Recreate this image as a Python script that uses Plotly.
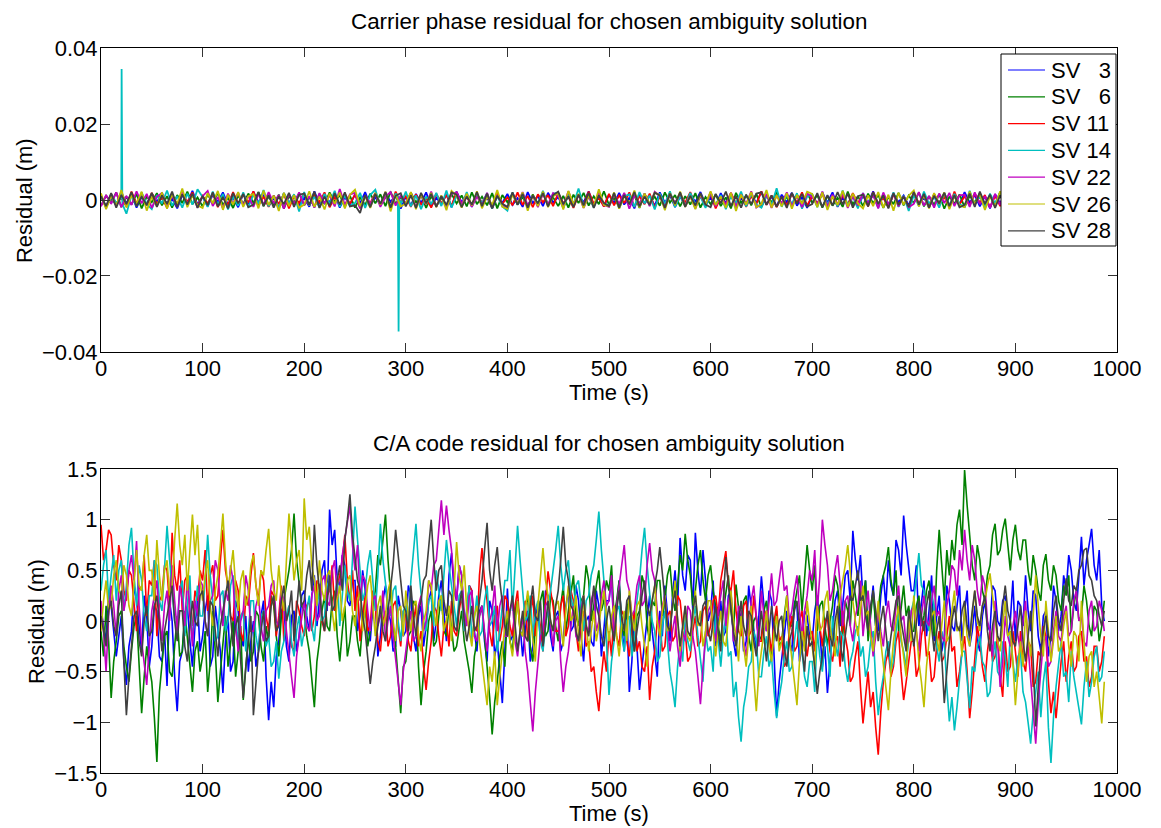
import plotly.graph_objects as go

# Epoch times (s): carrier phase every 5 s, C/A code every 2.5 s
t_phase = [5 * i for i in range(198)]
t_code = [2.5 * i for i in range(396)]

sv_names = ["SV \u20073", "SV \u20076", "SV 11", "SV 14", "SV 22", "SV 26", "SV 28"]
sv_colors = ["#0000ff", "#008000", "#ff0000", "#00bfbf", "#bf00bf", "#bfbf00", "#404040"]

# Carrier phase residuals (mm)
phase_sv3 = [
    1.2, -1.8, 0.6, -1.4, 2.1, -0.9, 1.5, -2.0, 0.8, -1.1,
    1.7, -0.6, 1.9, -1.5, 0.4, -2.2, 1.3, -0.8, 2.4, -1.2,
    0.9, -1.7, 1.4, -0.5, 2.0, -1.3, 0.7, -1.9, 1.6, -1.0,
    2.2, -0.7, 1.1, -1.6, 0.5, -2.1, 1.8, -0.9, 1.3, -1.4,
    0.6, -1.8, 2.3, -1.1, 1.0, -0.6, 1.7, -2.0, 0.8, -1.3,
    1.5, -0.9, 2.1, -1.5, 0.7, -1.2, 1.9, -0.5, 1.2, -2.3,
    0.9, -1.4, 1.6, -0.8, 2.0, -1.7, 0.6, -1.1, 1.4, -1.9,
    2.2, -0.6, 1.0, -1.5, 1.8, -1.0, 0.7, -2.1, 1.3, -0.8,
    1.6, -1.3, 0.5, -1.8, 2.1, -0.9, 1.1, -1.6, 1.9, -0.7,
    0.8, -2.0, 1.5, -1.1, 1.2, -0.6, 2.3, -1.4, 0.9, -1.7,
    1.4, -0.8, 1.9, -1.2, 0.6, -2.2, 1.7, -1.0, 1.1, -1.5,
    2.0, -0.7, 1.3, -1.9, 0.9, -1.3, 1.6, -0.5, 2.1, -1.1,
    0.7, -1.6, 1.8, -0.9, 1.2, -2.0, 0.5, -1.4, 1.5, -0.8,
    2.2, -1.2, 0.9, -1.7, 1.4, -0.6, 1.9, -1.5, 0.8, -2.1,
    1.3, -1.0, 1.7, -0.7, 2.0, -1.8, 0.6, -1.2, 1.5, -1.6,
    1.1, -0.9, 2.3, -1.3, 0.8, -1.9, 1.6, -0.6, 1.2, -1.4,
    1.9, -1.1, 0.7, -2.0, 1.4, -0.8, 1.8, -1.5, 0.9, -1.2,
    2.1, -0.7, 1.3, -1.7, 1.0, -2.2, 1.5, -0.9, 1.7, -1.3,
    0.6, -1.6, 2.0, -1.0, 1.2, -1.8, 0.8, -1.4, 1.9, -0.7,
    1.4, -2.1, 1.1, -1.2, 1.7, -0.8, 1.3, -1.6,
]
phase_sv6 = [
    -1.5, 1.1, -0.7, 2.0, -1.9, 0.8, -1.2, 1.6, -2.2, 0.9,
    -0.6, 1.8, -1.4, 1.0, -2.0, 1.3, -0.8, 2.2, -1.1, 0.7,
    -1.7, 1.5, -0.9, 1.9, -1.3, 0.6, -2.1, 1.2, -1.0, 1.7,
    -0.8, 2.1, -1.6, 0.9, -1.2, 1.4, -2.3, 1.0, -0.7, 1.8,
    -1.4, 0.8, -1.9, 1.6, -1.1, 2.0, -0.6, 1.3, -1.8, 1.1,
    -2.0, 0.7, -1.3, 1.7, -0.9, 1.5, -1.6, 2.2, -1.0, 0.8,
    -1.2, 1.9, -0.7, 1.4, -2.1, 1.0, -1.5, 0.6, -1.8, 1.6,
    -0.9, 1.2, -1.7, 2.0, -1.1, 0.9, -1.4, 1.8, -2.2, 1.3,
    -0.6, 1.7, -1.2, 0.8, -1.9, 1.5, -1.0, 2.1, -1.3, 0.7,
    -1.6, 1.1, -2.0, 1.4, -0.8, 1.9, -1.5, 1.0, -1.1, 2.3,
    -1.3, 0.6, -1.8, 1.6, -0.9, 1.2, -2.1, 1.7, -1.0, 0.9,
    -1.5, 2.0, -0.7, 1.3, -1.7, 1.0, -1.2, 1.8, -2.0, 0.8,
    -1.1, 1.5, -1.6, 0.7, -2.2, 1.9, -0.8, 1.2, -1.4, 1.6,
    -1.9, 1.0, -0.6, 2.1, -1.3, 0.9, -1.7, 1.4, -1.0, 1.8,
    -0.7, 1.3, -2.0, 1.1, -1.5, 0.6, -1.8, 2.2, -1.2, 1.0,
    -1.6, 1.7, -0.9, 1.4, -2.1, 0.8, -1.1, 1.9, -1.4, 1.2,
    -0.8, 2.0, -1.7, 1.0, -1.3, 1.6, -2.3, 0.9, -1.0, 1.5,
    -1.9, 1.1, -0.7, 1.8, -1.5, 1.3, -1.2, 2.1, -0.9, 0.7,
    -1.6, 1.4, -2.0, 1.0, -1.1, 1.7, -1.4, 0.8, -1.8, 1.9,
    -1.0, 1.2, -1.5, 2.0, -0.8, 1.3, -1.7, 1.1,
]
phase_sv11 = [
    0.9, -2.0, 1.6, -1.1, 0.6, -1.7, 2.2, -0.8, 1.3, -1.5,
    1.9, -1.0, 0.7, -2.1, 1.4, -1.2, 1.8, -0.6, 2.0, -1.6,
    1.1, -0.9, 1.7, -1.9, 0.8, -1.3, 2.1, -1.0, 1.5, -0.7,
    2.3, -1.4, 0.9, -1.8, 1.2, -1.1, 1.6, -2.2, 1.0, -0.8,
    1.8, -1.5, 1.3, -0.6, 2.0, -1.9, 0.7, -1.2, 1.7, -1.0,
    1.4, -2.1, 1.1, -0.9, 1.9, -1.3, 0.8, -1.6, 2.2, -0.7,
    1.0, -1.8, 1.5, -1.2, 0.6, -2.0, 1.7, -0.9, 1.3, -1.5,
    2.1, -1.1, 0.9, -1.7, 1.6, -0.8, 1.2, -2.2, 1.8, -1.0,
    0.7, -1.4, 2.0, -1.3, 1.1, -1.9, 1.5, -0.6, 1.3, -1.6,
    1.9, -0.9, 0.8, -2.1, 1.4, -1.2, 2.2, -1.0, 0.6, -1.7,
    1.6, -1.4, 1.2, -0.8, 2.0, -1.8, 1.0, -1.1, 1.7, -2.0,
    0.9, -1.5, 1.8, -1.0, 1.3, -0.7, 2.1, -1.6, 1.1, -1.3,
    1.5, -2.2, 0.7, -1.2, 1.9, -0.9, 1.4, -1.8, 1.0, -1.1,
    2.3, -1.3, 1.2, -1.9, 0.8, -1.4, 1.6, -0.7, 2.0, -1.5,
    1.1, -1.0, 1.7, -2.1, 0.9, -1.6, 1.3, -1.2, 1.8, -0.8,
    1.4, -1.7, 2.1, -1.0, 0.6, -1.9, 1.5, -1.3, 1.0, -2.0,
    1.9, -0.9, 1.2, -1.5, 1.6, -1.1, 0.8, -1.8, 2.2, -1.2,
    1.0, -1.4, 1.7, -0.7, 1.3, -2.0, 1.1, -1.6, 1.5, -0.9,
    2.0, -1.2, 0.9, -1.7, 1.8, -1.0, 1.4, -2.1, 0.7, -1.3,
    1.6, -1.5, 1.2, -0.8, 1.9, -1.4, 1.0, -1.1,
]
phase_sv14 = [
    1.0, -1.9, 1.5, -0.8, 2.3, -3.6, 1.2, -1.6, 2.0, -1.1,
    -2.4, 1.3, -0.9, 2.5, -1.5, 1.0, -2.0, 1.7, -1.2, 2.8,
    0.8, -1.8, 2.2, -1.3, 1.6, -2.5, 0.9, -1.5, 2.0, -1.9,
    1.4, -1.0, 2.6, -1.7, 1.1, -2.2, 1.8, -0.9, 1.5, -3.0,
    2.1, -1.4, 0.9, -2.0, 1.6, -1.1, 2.4, -1.8, 1.2, -1.6,
    -0.8, 1.9, -2.1, 1.3, 2.7, -1.5, 1.0, -1.9, 1.7, -1.2,
    2.2, -1.7, 1.2, -2.4, 0.9, -1.1, 1.9, -1.6, 2.5, -2.0,
    1.1, -1.3, 2.1, -1.8, 1.6, -0.9, 1.8, -2.3, 1.0, -1.7,
    -2.8, 2.0, -1.2, 1.5, -1.9, 1.2, -1.0, 2.4, -1.5, 1.7,
    1.9, -2.1, 1.3, -1.2, 3.0, -1.6, 0.9, -2.0, 1.6, -1.1,
    -1.4, 1.8, -2.2, 1.0, 1.5, -1.8, 2.1, -0.9, 1.2, -2.5,
    1.7, -1.1, 2.3, -1.9, 1.1, -1.6, 1.9, -1.2, 0.9, -2.1,
    2.0, -1.5, 1.3, -2.4, 1.0, -0.8, 2.2, -1.7, 1.6, -1.2,
    -2.0, 1.2, -1.3, 3.1, -1.8, 1.5, -1.0, 1.8, -2.3, 0.9,
    1.6, -1.9, 2.1, -1.1, 1.2, -1.7, 2.5, -1.3, 0.8, -2.2,
    1.8, -0.9, 1.5, -2.1, 1.7, -1.2, 2.0, -1.8, 1.1, -2.9,
    1.3, -1.6, 2.2, -1.0, 0.9, -2.0, 1.9, -1.5, 1.6, -1.1,
    -1.8, 2.4, -1.2, 1.0, -2.1, 1.7, -0.9, 2.0, -1.6, 1.3,
    2.8, -1.7, 1.1, -2.2, 1.5, -0.8, 1.8, -1.9, 1.2, -1.3,
    2.1, -1.1, 1.6, -2.0, 0.9, -1.5, 1.9, -1.2,
]
# SV 14 cycle-slip epochs (s) and their residuals (mm)
sv14_slip_t = [19.6, 20.3, 21.0, 292.2, 292.9, 293.6]
sv14_slip_mm = [0.5, 34.5, -1.0, 0.8, -34.6, 0.4]
phase_sv22 = [
    -1.7, 1.3, -1.0, 2.0, -1.9, 1.1, -1.3, 2.3, -0.9, 1.6,
    -2.1, 0.9, 1.8, -1.4, 1.2, -1.8, 2.1, -1.1, 1.5, -2.0,
    1.0, 2.4, -1.6, 0.8, -2.2, 1.7, -1.0, 1.9, -1.3, 1.1,
    -1.8, 1.6, -1.2, 2.1, -0.9, 1.3, -2.3, 1.7, -1.1, 2.0,
    -1.4, 1.0, -2.0, 1.8, -0.8, 1.2, -1.7, 2.9, -1.3, 1.5,
    1.9, -2.2, 1.1, -1.0, 1.6, -1.8, 0.9, 2.1, -1.5, 1.2,
    -0.9, 1.8, -1.9, 1.3, -1.2, 2.2, -1.7, 1.0, -2.1, 1.6,
    2.0, -1.1, 1.5, -1.8, 0.9, -1.3, 1.9, -2.0, 1.2, -1.0,
    -2.2, 1.7, -0.8, 2.1, -1.4, 1.1, -1.9, 1.6, -1.2, 1.8,
    1.0, -1.6, 2.3, -1.1, 1.3, -2.1, 0.9, -1.7, 2.0, -1.3,
    -1.8, 1.4, -1.0, 1.9, -2.3, 1.2, -0.9, 1.7, -1.6, 2.2,
    1.1, -2.0, 1.6, -0.8, 1.8, -1.4, 1.0, -2.2, 1.3, -1.2,
    2.1, -1.7, 0.9, -1.3, 1.9, -1.8, 1.4, -1.0, 2.3, -2.0,
    -1.1, 1.6, -2.1, 1.2, -0.9, 2.0, -1.6, 1.1, -1.9, 1.7,
    0.8, -1.3, 2.2, -1.8, 1.4, -1.1, 1.7, -2.1, 1.0, -1.4,
    1.8, -0.9, 1.3, -2.2, 2.0, -1.2, 1.6, -1.7, 0.9, -1.9,
    -1.0, 2.1, -1.5, 1.1, -2.0, 1.7, -0.8, 1.9, -1.6, 1.2,
    1.4, -1.8, 2.0, -1.1, 1.0, -2.1, 1.6, -1.3, 2.2, -0.9,
    -1.7, 1.2, -1.9, 1.8, -1.0, 1.3, -2.2, 0.9, 1.7, -1.4,
    1.9, -1.2, 1.0, -2.0, 1.6, -0.9, 1.8, -1.7,
]
phase_sv26 = [
    1.8, -2.4, 1.1, -1.5, 2.6, -2.0, 1.3, -1.0, 2.2, -2.8,
    0.9, -1.7, 2.0, -2.3, 1.5, -1.1, 3.0, -1.9, 1.2, -1.4,
    -2.1, 1.8, -0.9, 2.4, -2.6, 1.4, -1.2, 2.1, -1.8, 1.0,
    1.6, -2.2, 2.5, -1.3, 1.1, -2.9, 1.9, -1.6, 1.3, -2.0,
    -1.2, 2.3, -1.8, 0.9, -2.5, 1.7, -1.0, 2.0, -2.2, 1.4,
    2.7, -1.6, 1.0, -2.1, 1.8, -1.2, 2.2, -3.0, 1.3, -1.7,
    -0.9, 2.1, -2.4, 1.5, -1.1, 1.9, -1.9, 1.2, -2.7, 2.4,
    1.1, -2.0, 1.7, -1.4, 2.3, -2.2, 0.9, -1.3, 2.6, -1.8,
    -2.3, 1.4, -1.0, 2.0, -2.8, 1.3, -1.6, 2.2, -1.9, 1.0,
    1.8, -2.5, 2.4, -1.1, 1.6, -2.1, 1.2, -1.7, 2.8, -1.3,
    -1.6, 2.0, -2.3, 1.1, -0.9, 2.5, -2.0, 1.7, -1.2, 1.9,
    1.3, -2.7, 1.8, -1.4, 2.2, -1.8, 1.0, -2.4, 1.6, -1.1,
    2.3, -1.3, 0.9, -2.1, 1.9, -2.9, 1.4, -1.2, 2.1, -1.9,
    -1.1, 2.6, -2.0, 1.2, -1.7, 1.8, -2.3, 1.3, -1.0, 2.2,
    1.6, -1.9, 2.0, -2.6, 1.0, -1.3, 2.4, -1.8, 1.7, -0.9,
    -2.2, 1.2, -1.6, 2.1, -2.0, 1.4, -2.8, 1.9, -1.2, 1.1,
    2.5, -1.7, 1.3, -2.2, 1.8, -1.0, 2.0, -2.4, 1.1, -1.5,
    -1.9, 2.2, -1.2, 1.6, -2.6, 1.0, -1.7, 2.3, -2.0, 1.3,
    1.7, -2.3, 1.9, -1.1, 2.4, -1.8, 0.9, -2.5, 1.5, -1.6,
    2.0, -1.3, 2.3, -2.1, 1.2, -1.8, 1.6, -2.2,
]
phase_sv28 = [
    1.0, -1.6, 1.8, -2.0, 1.3, -1.1, 2.1, -1.7, 0.9, -1.3,
    1.9, -1.8, 1.2, -1.0, 2.2, -1.9, 1.5, -1.2, 1.7, -2.1,
    1.1, -1.4, 2.0, -1.7, 0.8, -2.2, 1.8, -0.9, 1.6, -1.9,
    -1.2, 2.1, -1.6, 1.3, -2.0, 1.0, -1.1, 1.9, -1.8, 1.4,
    1.7, -1.3, 2.2, -2.1, 0.9, -1.6, 1.8, -1.2, 2.0, -1.7,
    -1.4, -3.4, 1.3, -1.9, 1.6, -1.0, 2.1, -2.0, 1.1, 1.8,
    -1.7, 1.2, -2.1, 1.9, -0.9, 1.6, -1.8, 1.0, -1.3, 2.0,
    1.4, -1.9, 0.9, -1.2, 2.1, -1.6, 1.7, -2.2, 1.1, -1.0,
    -1.8, 2.0, -1.3, 1.6, -2.0, 1.2, -0.9, 1.8, -1.7, 1.3,
    2.2, -1.1, 1.0, -1.9, 1.4, -1.4, 1.9, -2.1, 1.2, -0.8,
    -1.6, 1.8, -2.0, 1.3, -1.1, 2.1, -1.7, 0.9, -1.3, 1.9,
    1.2, -2.1, 1.7, -1.0, 2.0, -1.8, 1.1, -1.4, 1.8, -1.2,
    -1.9, 1.6, -0.9, 2.2, -1.6, 1.0, -2.0, 1.4, -1.1, 1.7,
    2.0, -1.3, 1.2, -1.8, 0.9, -2.1, 1.9, -1.0, 1.6, -1.7,
    -1.1, 1.8, -1.9, 1.3, -1.4, 2.1, -1.2, 1.7, -2.0, 1.0,
    1.4, -1.7, 2.0, -1.0, 1.2, -2.2, 1.8, -1.3, 0.9, -1.8,
    2.1, -1.2, 1.6, -2.0, 1.1, -0.9, 1.9, -1.6, 1.3, -1.9,
    -1.3, 1.7, -1.8, 2.2, -1.0, 1.4, -2.1, 1.2, -1.6, 1.8,
    0.9, -2.0, 1.6, -1.2, 1.9, -1.7, 1.1, -0.9, 2.1, -1.8,
    1.3, -1.4, 1.8, -2.1, 1.0, -1.1, 1.7, -1.6,
]

# C/A code residuals (cm)
code_sv3 = [
    10, -5, -20, 30, 15, -10, -35, -15, 5, -40, -63, -25, -10, 35, 20, -5, -30, 25, 5, -45,
    -25, 15, 10, -35, -40, -10, -64, 20, 0, -55, -89, -40, -30, 5, 15, -20, -45, -5, 20, -30,
    -15, 10, 25, -45, -35, 15, -10, -30, -71, -20, 5, -50, -40, 20, 10, -15, -25, 5, -50, -20,
    0, -45, -30, 5, 20, -55, -98, -60, -85, -35, -20, 10, 15, -25, -40, 5, 10, -30, -15, 25,
    30, 5, -10, 25, 45, -5, 20, 50, 60, 10, 110, 75, 90, 40, 35, 65, 55, 20, 15, 40,
    40, -10, 5, 50, 30, -5, -20, 15, 25, -35, -15, 20, 35, 10, 0, -30, -25, 25, 10, -15,
    -10, 35, 25, -15, -30, 5, 15, -25, -5, 20, 30, -20, 0, 25, 40, 10, -20, 45, 67, 30,
    20, 55, 45, -5, 5, 35, 30, -10, -30, 10, 15, -20, -40, 20, 10, -35, -20, -50, -81, -30,
    32, -20, -15, 10, 20, -5, -35, -10, 10, -40, -25, 5, 15, -20, -10, 30, 25, -15, -30, 5,
    10, -30, -20, 15, 30, -10, -5, 35, 20, -15, -40, 0, 5, -20, -25, 30, 15, -35, -10, 20,
    20, 45, -15, 10, 40, -5, -30, 15, -70, -40, 10, -25, -68, -45, -20, 5, 25, -10, -35, -55,
    10, -15, 35, 5, -20, 25, 50, 15, 82, 45, 30, 65, 60, 10, 87, 50, 25, 70, 40, 0,
    10, 40, -25, -5, 20, -15, -10, 25, 30, -20, -35, 10, 5, -30, -20, 35, 15, -10, -30, 5,
    44, 15, -10, 30, 20, -35, -94, -60, -40, -15, 10, -20, -30, 20, 15, -40, -25, 10, 5, -15,
    -20, 10, 25, -15, -45, -25, -71, -40, -10, 20, 30, -5, 15, 45, 50, 20, 89, 60, 40, 65,
    20, 40, -15, 10, 35, -5, -10, 25, 45, 15, 60, 35, 25, 80, 70, 45, 104, 75, 55, 30,
    30, 55, -5, 15, 40, -15, 10, 45, -20, 5, 25, -30, -15, 35, 20, -5, -10, 15, 35, -20,
    10, 30, -25, -10, 15, -20, -30, 5, 20, -5, -10, 35, 30, 0, -5, 20, 25, -15, 0, 40,
    -20, 20, 15, -5, 45, 10, -10, 30, 25, -15, -30, 5, 10, -35, -15, 35, 20, -10, 5, 45,
    30, 65, 50, 20, 10, 45, 83, 35, 60, 75, 91, 55, 40, 70, 15, 0,
]
code_sv6 = [
    -10, -35, 15, -20, -76, -40, -20, 5, 10, -25, -45, -60, -30, -5, 5, -50, -91, -55, -25, -45,
    -60, -95, -139, -70, -40, -15, -10, -50, -55, -20, 5, -35, -30, 10, -15, -45, -70, -30, -20, -50,
    -35, -10, -70, -40, 10, -30, -80, -50, -25, 5, -45, -20, 0, -55, -30, -5, -78, -45, -15, -40,
    -30, 10, 5, -25, -40, -5, -20, 25, 15, -15, -35, 5, 20, 35, 50, 70, 106, 60, 40, 15,
    10, -15, -30, -55, -85, -40, -20, 10, 25, -5, -10, 20, 30, -15, -40, -10, 15, -35, -20, 5,
    5, -20, -35, 0, 20, -25, -10, 15, 30, 65, 55, 80, 105, 60, 30, -5, -25, -60, -91, -45,
    -40, -15, -10, 20, 15, -45, -83, -50, -30, 0, 10, -25, -20, 5, 25, -10, -15, 15, -5, -30,
    -25, -5, 10, -20, -35, -50, -71, -35, -20, 5, 15, -15, -40, -75, -112, -80, -60, -35, -20, -45,
    10, -20, -30, 5, 20, -10, -15, 15, 25, -25, -40, -5, 5, 20, 30, -15, -10, 25, 20, -5,
    -20, 15, 35, -10, 10, 30, 45, 5, -5, 20, 25, 55, 40, 0, 15, 35, 50, 10, 20, 40,
    30, 55, 5, 20, 40, -5, -15, 10, 25, -10, -30, 5, 10, 45, 35, -5, -20, 20, 15, 40,
    40, 5, 20, 45, 55, 25, 10, 35, 65, 50, 86, 60, 45, 15, 30, 55, 70, 40, 20, 45,
    55, 30, 15, -5, -20, 10, 30, 45, 10, -10, 36, 15, -10, 20, 25, -15, -30, 0, 5, -20,
    -15, 10, 20, -10, -35, -15, 10, -25, -20, 5, 25, -5, -5, 15, 30, 45, 10, 40, 75, 50,
    30, 55, -10, 15, 20, -5, -25, 0, 15, 45, 35, 10, -15, 20, 10, -5, 40, 25, 5, 30,
    20, 40, -20, 5, 30, -5, 10, 35, 45, 55, 73, 40, 25, 50, -10, 15, 35, 5, 15, -10,
    -10, 15, 25, -5, 5, 30, 40, 15, -15, 50, 90, 55, 20, 70, 45, 80, 60, 95, 110, 75,
    149, 114, 80, 55, 40, 75, 60, 30, 20, 45, 55, 85, 96, 65, 70, 90, 101, 75, 50, 80,
    95, 70, 60, 80, 80, 50, 35, 65, 50, 30, 20, 55, 66, 40, 30, 55, 45, 20, 10, 35,
    25, 45, -10, 15, 30, 0, 5, 35, 20, -5, -15, 15, 10, -20, -5, 20,
]
code_sv11 = [
    95, 60, 70, 90, 85, 55, 40, 75, 60, 30, 20, 50, 45, 15, -10, 35, 30, 65, 5, 40,
    35, 60, -15, 20, 25, 55, 50, 15, 87, 45, 30, 60, 10, 40, 45, 5, -5, 30, 20, 50,
    40, 70, 10, 45, 55, 20, 25, 60, 90, 50, 35, 5, 0, 40, 30, -10, -20, 25, 15, 45,
    67, 35, 20, 50, 40, 5, -10, 30, 25, -15, 5, 35, -20, 0, 15, -25, -30, 20, 10, -5,
    -15, 15, 20, -10, 5, 40, 35, 0, -10, 25, 30, 55, 10, 35, 45, 60, 85, 40, 20, 50,
    10, 35, -20, 5, 25, -10, -5, 30, 15, -20, -30, 0, 10, -25, -15, 15, 20, -5, -25, 10,
    5, -20, -30, 0, 15, -25, -10, -45, -68, -40, -20, 15, 10, -15, -35, -5, 0, -25, 20, -10,
    -15, 10, 25, -10, 5, 35, 30, -5, -10, 45, 72, 40, 20, -10, -25, 5, 15, -20, -5, 25,
    20, -5, -15, 15, 30, -10, 0, 20, -20, 5, 25, -15, 10, -5, -30, 20, 49, 30, 15, -10,
    -10, 15, 25, -15, -5, 30, 20, -10, -30, 0, 10, -25, -20, -50, -45, -70, -89, -55, -30, -50,
    -10, -35, 15, -15, -25, 10, 5, -20, -35, -5, 10, -30, -20, -45, -50, -25, -78, -45, -30, 0,
    0, -30, -25, 5, 10, -20, -15, 25, 20, -5, -10, -40, -35, -10, 5, -25, -20, 10, 15, -15,
    -5, 20, 25, 5, 40, 55, 69, 35, 30, 50, 10, -10, -15, 15, 20, -15, -10, 25, 5, -20,
    -20, 5, 10, -15, -30, 0, 15, -20, -15, -45, -40, -10, 5, -30, -25, 0, 10, -20, -35, -15,
    -10, -30, 15, -5, -25, 0, 5, -30, -40, -20, -15, -45, 10, -15, -30, -60, -55, -35, -20, -65,
    -101, -75, -50, -85, -70, -105, -132, -90, -60, -40, -30, -55, -45, -20, -10, -50, -78, -60, -40, -20,
    -20, -55, -45, -15, 0, -35, -30, -60, -55, -25, -10, -40, -35, -15, 5, -30, -25, -65, -50, -30,
    -15, -50, -96, -70, -40, -5, -20, -45, -60, -30, -10, -40, -35, -15, -55, -75, -20, -50, -45, -10,
    -30, -55, -10, -40, -50, -20, -25, -65, -60, -30, -35, -5, -15, -60, -91, -70, -96, -65, -40, -20,
    -60, -35, -20, -50, -45, -15, -10, -40, -35, -65, -55, -25, -25, -50, -40, -15,
]
code_sv14 = [
    30, 55, 70, 20, 45, 65, 20, 50, 60, 10, 35, 75, 92, 45, 15, 55, 40, 5, -10, 25,
    25, 60, 55, 20, 10, 50, 94, 60, 30, 0, -5, 30, 40, -15, 15, 45, -20, 10, 35, 5,
    5, 40, 85, 45, 20, -20, -15, 25, 30, -10, 0, 35, 45, 10, -25, 5, 10, -30, -10, 20,
    20, -15, -30, 5, 10, -25, -15, -45, -40, -20, -57, -30, -20, 5, 15, -20, -35, -10, 5, -25,
    -10, 10, 25, -5, -20, 15, 30, 0, 5, 35, 40, 10, 15, 45, -5, 25, 55, 30, 20, 60,
    113, 80, 50, 20, 30, 55, 70, 35, 10, 45, 96, 60, 40, 15, 5, 30, 35, 0, -20, 10,
    15, -5, 40, 65, 96, 55, 30, 0, -10, 20, 25, -5, 50, 30, 10, 45, 80, 55, 35, 10,
    -5, 25, 30, -10, 10, 35, -20, 5, 25, -15, -10, 20, 35, -5, 0, 15, -30, -10, 15, 40,
    40, 70, 10, 55, 94, 60, 30, 0, 5, 25, -15, 10, 20, -20, -30, -5, 10, 30, 45, 70,
    94, 55, 30, 50, 60, 25, 10, 35, 40, 15, -10, 20, 25, 45, 55, 80, 108, 70, 40, -20,
    -73, -40, -20, 10, 15, -15, -30, 0, 5, -35, -15, 20, 40, 70, 92, 55, 30, 0, -10, -40,
    -35, -5, 10, -25, -50, -65, -85, -45, -20, -40, 5, -20, -30, 0, 15, -15, -40, -60, -10, -30,
    -25, -50, 10, -20, -45, -15, 5, -35, -30, -75, -60, -95, -119, -85, -70, -45, -40, -10, -20, -55,
    -55, -30, -15, -45, -35, -70, -96, -75, -60, -35, -20, -50, -45, -20, 0, -25, -30, -55, -65, -40,
    -40, -70, -10, -35, -50, -15, -25, -55, 5, -20, -35, -10, -15, -45, -60, -40, -30, -10, -5, -35,
    -25, -55, -45, -20, -10, -60, -93, -70, -55, -30, -20, -50, -40, -10, 10, -20, -30, -45, -15, 10,
    20, 45, 67, 35, 30, 0, -10, 25, 15, -25, -40, -10, -20, -65, -99, -75, -108, -85, -60, -30,
    -30, -60, -86, -45, -50, -25, -15, -40, -45, -75, -70, -40, -20, -50, -55, -20, -35, -65, -10, -40,
    -60, -35, -30, -70, -80, -100, -121, -90, -70, -50, -95, -60, -40, -105, -140, -95, -65, -40, -20, -55,
    -50, -80, -30, -55, -70, -85, -102, -65, -40, -75, -60, -35, -25, -60, -55, -30,
]
code_sv22 = [
    20, -10, -50, 5, 35, 15, -15, 30, 45, 10, 25, 50, 65, 40, 79, 15, -20, -40, -63, -25,
    10, 25, 40, 5, -20, 15, 30, 0, 55, 20, -10, 35, 20, -5, 45, 10, -25, 20, 5, 40,
    35, 0, -15, 20, 25, 60, 50, 15, -5, 30, 20, 55, 40, -5, -30, 0, 10, 45, 30, -10,
    -10, 15, 25, -5, -20, 10, 15, 35, 40, 0, -5, 30, 20, -10, -30, -55, -76, -35, -15, 5,
    20, -5, -10, 25, 35, 0, 5, 40, 45, 20, 15, 50, 60, 25, 30, 65, 80, 95, 114, 75,
    50, 75, 20, 45, 40, 10, -10, 20, 25, -5, 5, 30, -20, 0, 15, -15, -40, -60, -83, -50,
    -30, -5, 10, -20, -15, 15, 25, -10, 0, 40, 30, 55, 60, 90, 119, 85, 114, 90, 70, 40,
    20, 55, 45, 10, -5, 25, 30, -15, -20, 5, 15, -10, -30, 0, 10, 35, -10, 15, 25, -15,
    -15, 10, 20, -20, -35, -10, 5, -30, -50, -80, -109, -70, -40, -15, -10, 15, 20, -5, -25, 0,
    5, -40, -70, -45, -30, -5, 15, -15, -20, 10, 25, -5, -10, 20, 30, -10, 0, 25, 40, 15,
    20, 45, -10, 15, 35, 55, 75, 40, 30, 5, 10, 35, 45, 15, 20, 55, 77, 50, 40, 10,
    -10, 15, 25, -5, -30, -10, 5, -25, -45, -10, -20, 15, 10, -15, -30, -55, -82, -45, -15, 10,
    15, -10, -20, 10, 25, 40, -5, 20, 30, -20, -15, 15, 10, -20, -35, -5, 20, 35, 0, -25,
    30, 5, -10, 20, 47, 15, 20, 40, 59, 30, 35, 0, 10, 30, 45, 10, -15, 10, 25, 50,
    40, 70, 10, 45, 100, 75, 55, 20, 30, 50, 65, 35, -5, 20, 25, -5, -20, 5, 15, 40,
    -15, 10, 30, -5, -35, -15, 10, -10, -25, 5, 20, -5, -10, 15, 35, 0, 5, -25, -20, 10,
    15, -10, -30, 5, 25, 0, -5, 20, 35, 5, 10, -15, -20, 15, 30, 55, 50, 25, 70, 50,
    90, 60, 40, 75, 60, 30, 15, 45, 35, 0, -10, -35, 20, -20, -65, -40, 5, -15, -25, -5,
    10, -15, -30, 0, 20, -25, -60, -85, -121, -80, -50, -20, -15, -45, -40, -10, 10, -15, -20, 5,
    15, -15, -10, 20, 30, 0, 5, -20, -25, 10, 20, -10, -5, 20, 10, -10,
]
code_sv26 = [
    -10, 20, 40, 10, 15, 45, 60, 30, 25, 55, 45, 15, 5, 40, 70, 35, 30, 65, 85, 50,
    50, 20, 80, 45, 20, 50, 60, 25, 35, 80, 116, 75, 55, 85, 30, 70, 105, 65, 95, 40,
    20, 45, 60, 15, -5, 30, 45, 75, 106, 60, 30, 50, 70, 35, 10, 40, 50, 15, 25, 55,
    65, 35, 15, 50, 45, 70, 91, 50, 30, 20, 55, 25, 10, 60, 106, 75, 40, 60, 70, 30,
    121, 80, 93, 55, 40, 15, 60, 30, 20, 45, 50, 10, -10, 20, 35, 0, 15, 40, 45, 10,
    -5, 20, 30, -10, 10, 35, 45, 10, -15, 15, 25, -5, 5, 30, 40, 0, -20, 10, 15, -15,
    30, 5, -10, 15, 20, -15, -30, 0, 10, 40, 35, 10, -5, 20, 25, -10, 0, 15, -20, 30,
    78, 45, 30, 55, 10, -10, -25, 5, 15, -20, -40, -65, -83, -45, -60, -30, -83, -55, -30, -5,
    10, -20, -35, -5, 20, -10, -15, 10, 30, 5, -20, -40, 15, 45, 72, 40, 25, 0, -10, 15,
    20, -5, -25, 10, 35, 0, 5, 25, -15, -35, 25, 0, -30, -10, 10, -20, -5, 15, 30, 5,
    -20, 5, 15, -15, -35, -5, 10, -20, 30, 5, -10, 15, 20, -5, -25, -45, 5, 20, 35, 0,
    -15, 10, 25, -10, -5, 15, 40, 0, -30, -10, 15, -15, -20, 5, 30, -5, 10, -25, -10, 20,
    20, -10, -35, -10, 10, -20, -25, 5, 30, 0, -15, -40, 5, -25, -45, -15, 15, -55, -89, -50,
    -30, -5, 10, -25, -40, -10, 5, -30, -20, 0, 25, -15, -35, -60, -83, -40, -10, -30, 20, -5,
    -25, -45, 15, -10, -5, 20, 30, -5, -20, -35, 10, 25, 40, 55, 75, 45, 20, 0, -15, 10,
    35, 5, 10, -15, -30, -5, 20, -20, -45, -65, -88, -50, -20, 0, 15, -15, -35, -55, 5, -20,
    25, -10, -40, -60, -85, -45, -20, 5, 10, -15, -30, -5, 20, -20, -15, 10, 30, -10, -5, -35,
    15, -15, -25, 5, 30, 0, -10, 15, 20, 35, 47, 25, 5, -20, -30, -5, 20, -15, -10, -40,
    -83, -50, -20, -45, 10, -15, -35, 5, 45, 15, -15, -35, 20, -10, -40, -20, 5, -30, -25, -5,
    10, -25, -45, -10, -15, -40, 20, -20, -60, -35, -30, -65, -50, -75, -101, -60,
]
code_sv28 = [
    5, -10, -25, 10, 20, -5, -15, 15, 30, -40, -93, -55, -20, 5, 10, -20, -35, 0, 15, -15,
    -10, 15, 25, -5, -30, -10, 5, 20, 35, 0, -20, 10, 10, -25, -40, -5, 20, 0, -5, 25,
    30, 0, -15, 20, 15, -10, -35, -5, 10, 25, 40, 5, -25, -5, 5, -40, -76, -45, -20, 5,
    -93, -60, -30, -10, 10, -20, -15, 15, 25, -10, -5, 20, 35, 0, 10, 30, -20, 10, 40, 15,
    20, 45, 60, 30, 95, 55, 30, 5, -10, 20, 45, 10, 15, 40, 55, 30, 80, 100, 125, 85,
    60, 40, 30, 5, -10, -35, -62, -40, -25, -5, 15, -10, -20, 10, 30, 55, 90, 65, 40, 15,
    10, -10, 35, 5, -15, 10, 20, 40, 45, 70, 100, 60, 30, 50, 55, 20, 5, 30, 25, -5,
    -10, 15, 30, 0, -20, -5, 15, -10, -5, 20, 40, 70, 97, 50, 30, 55, 73, 40, 20, -5,
    -15, 10, 25, -5, -30, -10, 10, -15, -20, 15, 35, 5, 0, 20, -25, -5, 20, 0, -10, 15,
    30, 60, 93, 55, 40, 15, 10, -10, -20, 5, 25, -5, -15, 10, 35, 15, 5, -15, -25, 0,
    15, -5, -20, 10, 30, 5, -10, 20, 25, -5, -30, -10, 10, 25, 40, 15, 5, 20, 35, 50,
    73, 45, 20, -5, -10, 15, 30, 0, -25, -5, 15, -10, -15, 10, 25, 0, -5, 15, 20, -10,
    -20, 0, 15, -10, -30, 20, 63, 35, 10, -10, -25, 0, 20, -5, -15, 10, 5, -20, -35, -10,
    10, -15, -40, -10, 15, -5, -20, 0, 5, -25, -45, -20, -10, 10, 20, -5, -30, -50, -5, -25,
    -20, -45, -72, -50, -35, -10, 10, -15, -25, 0, 15, -20, -40, -15, 5, 25, 20, 35, 50, 20,
    25, 5, -10, 15, 30, 10, -20, 0, 15, -10, -35, -15, 5, 20, 25, 0, -15, -30, 10, -5,
    -25, -5, 20, 5, -10, 15, 30, -5, -30, -10, 5, -35, -81, -50, -20, 0, 15, -5, -10, 10,
    20, -5, -15, 10, 30, 5, -5, 15, 25, -10, -30, -5, 10, -15, -20, 15, 35, 10, 0, -20,
    -25, -5, 15, -20, -40, -15, 10, -40, -104, -65, -30, -10, 5, -15, -20, 10, 25, 0, -10, 20,
    42, 20, 15, 35, 30, 50, 55, 70, 72, 45, 40, 25, 20, 5, -5, 10,
]

phase_mm = [phase_sv3, phase_sv6, phase_sv11, phase_sv14, phase_sv22, phase_sv26, phase_sv28]
code_cm = [code_sv3, code_sv6, code_sv11, code_sv14, code_sv22, code_sv26, code_sv28]

fig = go.Figure()

for k, (name, color) in enumerate(zip(sv_names, sv_colors)):
    vals = phase_mm[k]
    tt = t_phase[:len(vals)]
    if name == "SV 14":
        merged = sorted(zip(tt + sv14_slip_t, vals + sv14_slip_mm))
        tt = [p[0] for p in merged]
        vals = [p[1] for p in merged]
    fig.add_trace(go.Scatter(
        x=tt, y=[v / 1000.0 for v in vals], mode="lines", name=name,
        showlegend=False, line=dict(color=color, width=1.8),
        xaxis="x", yaxis="y",
    ))

for k, (name, color) in enumerate(zip(sv_names, sv_colors)):
    vals = code_cm[k]
    fig.add_trace(go.Scatter(
        x=t_code[:len(vals)], y=[v / 100.0 for v in vals], mode="lines", name=name,
        showlegend=False, line=dict(color=color, width=1.6),
        xaxis="x2", yaxis="y2",
    ))

axis_style = dict(
    showline=True, linecolor="black", linewidth=1, mirror="allticks",
    ticks="inside", ticklen=9, tickwidth=1, tickcolor="#333333",
    showgrid=False, zeroline=False, tickfont=dict(size=22, color="black"),
)

# Figure-pixel helpers for placing the legend box of the upper panel
PLOT_L, PLOT_W, PLOT_B, PLOT_H = 101, 1016, 773, 725


def fx(px):
    return (px - PLOT_L) / PLOT_W


def fy(py):
    return (PLOT_B - py) / PLOT_H


shapes = [dict(type="rect", xref="paper", yref="paper", x0=fx(1001), x1=fx(1116),
               y0=fy(246), y1=fy(54), line=dict(color="black", width=1),
               fillcolor="white", layer="above")]
legend_labels = []
for i, (name, color) in enumerate(zip(sv_names, sv_colors)):
    row = 70 + 26.8 * i
    shapes.append(dict(type="line", xref="paper", yref="paper", x0=fx(1008), x1=fx(1045),
                       y0=fy(row), y1=fy(row), line=dict(color=color, width=1.2), layer="above"))
    legend_labels.append(dict(text=name, x=fx(1049), y=fy(row), xref="paper", yref="paper",
                              showarrow=False, xanchor="left", yanchor="middle",
                              font=dict(size=22)))

fig.update_layout(
    width=1161, height=828,
    margin=dict(l=101, r=44, t=48, b=55),
    paper_bgcolor="white", plot_bgcolor="white",
    font=dict(family="Liberation Sans, Arial, Helvetica, sans-serif", size=22, color="black"),
    xaxis=dict(domain=[0, 1], range=[0, 1000], tick0=0, dtick=100, anchor="y",
               ticklabelstandoff=-3, **axis_style),
    yaxis=dict(domain=[0.5807, 1], range=[-0.04, 0.04], tick0=0, dtick=0.02, anchor="x",
               ticklabelstandoff=-2, **axis_style),
    xaxis2=dict(domain=[0, 1], range=[0, 1000], tick0=0, dtick=100, anchor="y2",
                ticklabelstandoff=-3, **axis_style),
    yaxis2=dict(domain=[0, 0.4193], range=[-1.5, 1.5], tick0=0, dtick=0.5, anchor="x2",
                ticklabelstandoff=-2, **axis_style),
    showlegend=False,
    shapes=shapes,
    annotations=[
        dict(text="Carrier phase residual for chosen ambiguity solution", x=0.5, y=1.0359,
             xref="paper", yref="paper", showarrow=False, xanchor="center", yanchor="middle",
             font=dict(size=22.4)),
        dict(text="C/A code residual for chosen ambiguity solution", x=0.5, y=0.4538,
             xref="paper", yref="paper", showarrow=False, xanchor="center", yanchor="middle",
             font=dict(size=22.4)),
        dict(text="Time (s)", x=0.5, y=0.5245, xref="paper", yref="paper", showarrow=False,
             xanchor="center", yanchor="middle", font=dict(size=22)),
        dict(text="Time (s)", x=0.5, y=-0.0552, xref="paper", yref="paper", showarrow=False,
             xanchor="center", yanchor="middle", font=dict(size=22)),
        dict(text="Residual (m)", x=-0.0758, y=0.7903, xref="paper", yref="paper", showarrow=False,
             xanchor="center", yanchor="middle", textangle=-90, font=dict(size=22)),
        dict(text="Residual (m)", x=-0.063, y=0.2097, xref="paper", yref="paper", showarrow=False,
             xanchor="center", yanchor="middle", textangle=-90, font=dict(size=22)),
    ] + legend_labels,
)

fig.write_html("out.html")
